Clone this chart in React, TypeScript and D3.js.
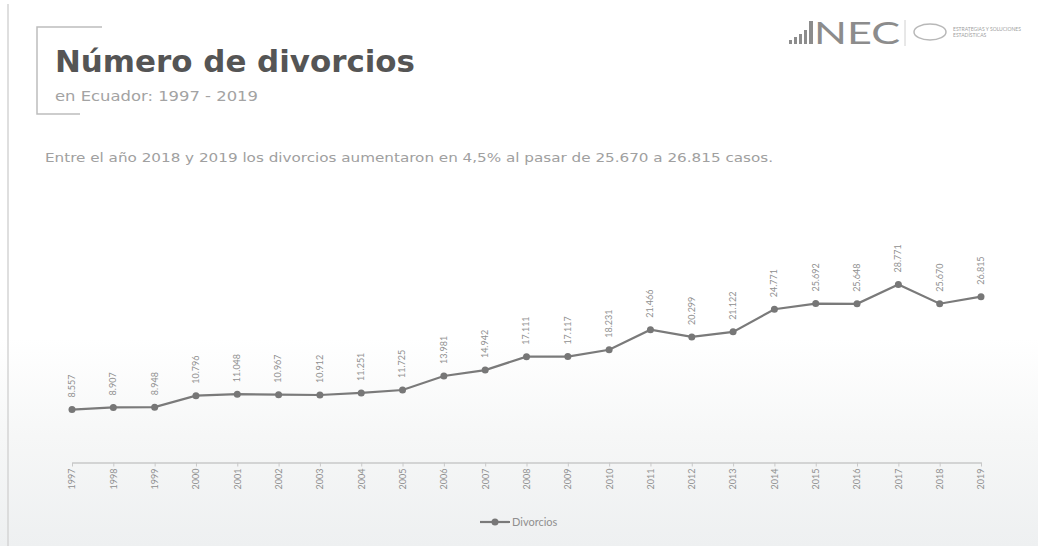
import React, { useRef, useEffect } from 'react';
import * as d3 from 'd3';

// Divorcios en Ecuador, 1997 - 2019
const years = [
  '1997', '1998', '1999', '2000', '2001', '2002', '2003', '2004', '2005', '2006', '2007', '2008',
  '2009', '2010', '2011', '2012', '2013', '2014', '2015', '2016', '2017', '2018', '2019',
];
const divorces = [
  8557, 8907, 8948, 10796, 11048, 10967, 10912, 11251, 11725, 13981, 14942, 17111,
  17117, 18231, 21466, 20299, 21122, 24771, 25692, 25648, 28771, 25670, 26815,
];
const seriesName = 'Divorcios';
const titleText = 'Número de divorcios';
const subtitleText = 'en Ecuador: 1997 - 2019';
const noteText = 'Entre el año 2018 y 2019 los divorcios aumentaron en 4,5% al pasar de 25.670 a 26.815 casos.';

const W = 1038;
const H = 546;
const FONT = 'Lato, "Open Sans", sans-serif';
const WIDE = '"DejaVu Sans", sans-serif';

const fmt = (v: number) => d3.format(',')(v).replace(/,/g, '.');

const App: React.FC = () => {
  const ref = useRef<SVGSVGElement>(null);

  useEffect(() => {
    if (!ref.current) return;
    const svg = d3.select(ref.current);
    svg.selectAll('*').remove();

    // background
    const defs = svg.append('defs');
    const grad = defs
      .append('linearGradient')
      .attr('id', 'bg')
      .attr('x1', 0)
      .attr('y1', 0)
      .attr('x2', 0)
      .attr('y2', 1);
    grad.append('stop').attr('offset', '0.62').attr('stop-color', '#ffffff');
    grad.append('stop').attr('offset', '0.8').attr('stop-color', '#f6f7f7');
    grad.append('stop').attr('offset', '1').attr('stop-color', '#eef0f1');
    svg.append('rect').attr('width', W).attr('height', H).attr('fill', 'url(#bg)');

    svg
      .append('line')
      .attr('x1', 8)
      .attr('x2', 8)
      .attr('y1', 4)
      .attr('y2', H)
      .attr('stroke', '#d4d4d4')
      .attr('stroke-width', 1.5);

    // title bracket
    svg
      .append('path')
      .attr('d', 'M102,27 H37 V114 H80')
      .attr('fill', 'none')
      .attr('stroke', '#bdbdbd')
      .attr('stroke-width', 1.5);

    svg
      .append('text')
      .attr('x', 55)
      .attr('y', 72)
      .attr('font-family', WIDE)
      .attr('font-weight', 'bold')
      .attr('font-size', 31)
      .attr('fill', '#555555')
      .attr('textLength', 360)
      .attr('lengthAdjust', 'spacingAndGlyphs')
      .text(titleText);

    svg
      .append('text')
      .attr('x', 55)
      .attr('y', 101)
      .attr('font-family', WIDE)
      .attr('font-size', 14.5)
      .attr('fill', '#a3a3a3')
      .attr('textLength', 203)
      .attr('lengthAdjust', 'spacingAndGlyphs')
      .text(subtitleText);

    svg
      .append('text')
      .attr('x', 45)
      .attr('y', 162)
      .attr('font-family', WIDE)
      .attr('font-size', 13)
      .attr('fill', '#a0a0a0')
      .attr('textLength', 728)
      .attr('lengthAdjust', 'spacingAndGlyphs')
      .text(noteText);

    // logo
    const logo = svg.append('g').attr('fill', '#8c8c8c');
    [4, 7, 10, 14].forEach((h, i) => {
      logo
        .append('rect')
        .attr('x', 789 + i * 5)
        .attr('y', 44 - h)
        .attr('width', 3)
        .attr('height', h);
    });
    logo.append('rect').attr('x', 809).attr('y', 21).attr('width', 4).attr('height', 23);
    logo
      .append('text')
      .attr('x', 814)
      .attr('y', 44)
      .attr('font-family', FONT)
      .attr('font-size', 31)
      .attr('textLength', 86)
      .attr('lengthAdjust', 'spacingAndGlyphs')
      .text('NEC');
    logo
      .append('line')
      .attr('x1', 905)
      .attr('x2', 905)
      .attr('y1', 20)
      .attr('y2', 46)
      .attr('stroke', '#d0d0d0');
    logo
      .append('ellipse')
      .attr('cx', 930)
      .attr('cy', 32)
      .attr('rx', 16)
      .attr('ry', 8)
      .attr('fill', 'none')
      .attr('stroke', '#b8b8b8')
      .attr('stroke-width', 1.5);
    logo
      .append('text')
      .attr('x', 953)
      .attr('y', 31)
      .attr('font-family', FONT)
      .attr('font-size', 5)
      .attr('fill', '#a0a0a0')
      .text('ESTRATEGIAS Y SOLUCIONES');
    logo
      .append('text')
      .attr('x', 953)
      .attr('y', 37)
      .attr('font-family', FONT)
      .attr('font-size', 5)
      .attr('fill', '#a0a0a0')
      .text('ESTADÍSTICAS');

    // scales
    const x = d3.scalePoint<string>().domain(years).range([72, 981]);
    const y = d3.scaleLinear().domain([0, 35000]).range([462.5, 246]);

    // x axis
    const xAxis = svg
      .append('g')
      .attr('transform', 'translate(0,462.5)')
      .call(d3.axisBottom(x).tickSize(4).tickSizeOuter(0));
    xAxis.select('.domain').attr('stroke', '#c8c8c8').attr('stroke-width', 1.5);
    xAxis.selectAll('.tick line').attr('stroke', '#c8c8c8');
    xAxis
      .selectAll<SVGTextElement, string>('.tick text')
      .attr('font-family', FONT)
      .attr('font-size', 9)
      .attr('fill', '#8f8f8f')
      .attr('transform', 'rotate(-90)')
      .attr('text-anchor', 'end')
      .attr('dy', '0.32em')
      .attr('x', -6)
      .attr('y', 0);

    // line
    const pts = years.map((yr, i) => ({ yr, v: divorces[i] }));
    const line = d3
      .line<{ yr: string; v: number }>()
      .x((d) => x(d.yr) as number)
      .y((d) => y(d.v));
    svg
      .append('path')
      .datum(pts)
      .attr('d', line)
      .attr('fill', 'none')
      .attr('stroke', '#7a7a7a')
      .attr('stroke-width', 2.2);

    svg
      .selectAll('.dot')
      .data(pts)
      .join('circle')
      .attr('class', 'dot')
      .attr('cx', (d) => x(d.yr) as number)
      .attr('cy', (d) => y(d.v))
      .attr('r', 3.5)
      .attr('fill', '#777777');

    // data labels
    svg
      .selectAll('.lbl')
      .data(pts)
      .join('text')
      .attr('class', 'lbl')
      .attr('transform', (d) => `translate(${x(d.yr)},${y(d.v) - 12}) rotate(-90)`)
      .attr('dy', '0.32em')
      .attr('font-family', FONT)
      .attr('font-size', 9)
      .attr('fill', '#8f8f8f')
      .text((d) => fmt(d.v));

    // legend
    const lg = svg.append('g').attr('transform', 'translate(480,522)');
    lg.append('line').attr('x1', 0).attr('x2', 30).attr('stroke', '#7a7a7a').attr('stroke-width', 2.2);
    lg.append('circle').attr('cx', 15).attr('r', 3.5).attr('fill', '#777777');
    lg.append('text')
      .attr('x', 32)
      .attr('dy', '0.35em')
      .attr('font-family', FONT)
      .attr('font-size', 11)
      .attr('fill', '#8f8f8f')
      .text(seriesName);
  }, []);

  return (
    <svg
      ref={ref}
      width={W}
      height={H}
      style={{ position: 'absolute', left: 0, top: 0 }}
    />
  );
};

export default App;
